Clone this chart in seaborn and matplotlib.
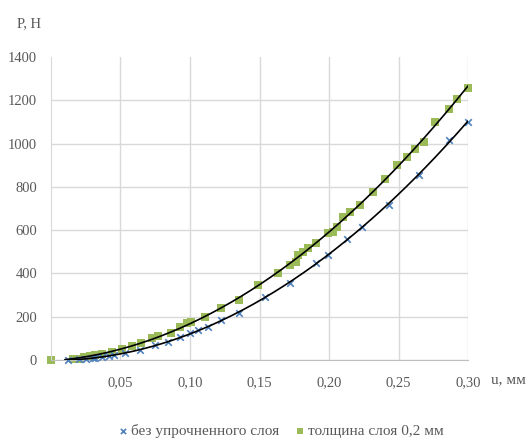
import matplotlib
matplotlib.use("Agg")
import matplotlib.pyplot as plt
import numpy as np
import pandas as pd
import seaborn as sns

# %% data
u_plain = [0.012, 0.020, 0.025, 0.030, 0.032, 0.037, 0.042, 0.045, 0.053, 0.064,
           0.075, 0.084, 0.093, 0.100, 0.106, 0.113, 0.122, 0.135, 0.154, 0.172,
           0.191, 0.199, 0.213, 0.224, 0.243, 0.265, 0.286, 0.300]
p_plain = [1, 3, 6, 8, 9, 14, 18, 21, 30, 45,
           69, 82, 108, 125, 139, 153, 183, 217, 291, 356,
           448, 485, 559, 615, 716, 855, 1016, 1100]

u_layer = [0.0, 0.016, 0.021, 0.024, 0.028, 0.032, 0.037, 0.044, 0.051, 0.058,
           0.065, 0.073, 0.077, 0.086, 0.093, 0.098, 0.101, 0.111, 0.122, 0.135,
           0.149, 0.163, 0.172, 0.176, 0.178, 0.181, 0.185, 0.191, 0.199, 0.203,
           0.206, 0.210, 0.215, 0.222, 0.232, 0.240, 0.249, 0.256, 0.262, 0.268,
           0.276, 0.286, 0.292, 0.300]
p_layer = [0, 3, 5, 14, 18, 23, 28, 37, 51, 65,
           79, 102, 111, 125, 153, 171, 176, 199, 240, 277,
           347, 402, 439, 453, 485, 499, 517, 540, 587, 591,
           615, 661, 684, 716, 776, 836, 901, 938, 975, 1007,
           1100, 1160, 1206, 1257]

x_ticks = [0.05, 0.10, 0.15, 0.20, 0.25, 0.30]
y_ticks = [0, 200, 400, 600, 800, 1000, 1200, 1400]
label_plain = "без упрочненного слоя"
label_layer = "толщина слоя 0,2 мм"

df_plain = pd.DataFrame({"u": u_plain, "p": p_plain})
df_layer = pd.DataFrame({"u": u_layer, "p": p_layer})

# %% plot
sns.set_style("white")
plt.rcParams["font.family"] = ["Liberation Serif", "DejaVu Serif"]
txt = "#595959"

fig = plt.figure(figsize=(5.29, 4.41), dpi=100)
ax = fig.add_axes([0.0964, 0.1837, 0.7883, 0.687])

sns.scatterplot(data=df_plain, x="u", y="p", ax=ax, marker="x", color="#4f81bd",
                s=22, linewidth=1.2, label=label_plain, zorder=3, clip_on=False)
sns.scatterplot(data=df_layer, x="u", y="p", ax=ax, marker="s", color="#9bbb59",
                s=30, linewidth=0, label=label_layer, zorder=2, clip_on=False)

# polynomial trend lines (2nd order), on top of the markers
u_fit = np.linspace(0.01, 0.30, 200)
for df in (df_plain, df_layer):
    coef = np.polyfit(df["u"], df["p"], 2)
    sns.lineplot(x=u_fit, y=np.polyval(coef, u_fit), ax=ax, color="black",
                 lw=1.2, zorder=5)

ax.set_xlim(0, 0.30)
ax.set_ylim(0, 1400)
ax.set_xticks(x_ticks)
ax.set_xticklabels([f"{t:.2f}".replace(".", ",") for t in x_ticks])
ax.set_yticks(y_ticks)
ax.set_yticklabels([str(t) for t in y_ticks])
ax.tick_params(length=0, labelsize=10.5, labelcolor=txt, pad=12)
ax.tick_params(axis="y", pad=10)
ax.set_xlabel("")
ax.set_ylabel("")

ax.grid(True, color="#d9d9d9", lw=1)
ax.yaxis.get_gridlines()[-1].set_visible(False)
ax.set_axisbelow(True)
for s in ("top", "right"):
    ax.spines[s].set_visible(False)
ax.spines["left"].set_color("#d9d9d9")
ax.spines["bottom"].set_color("#bfbfbf")

fig.text(0.054, 0.946, "Р, Н", fontsize=10.5, color=txt, ha="center", va="center")
fig.text(0.962, 0.138, "u, мм", fontsize=11, color=txt, ha="center", va="center")

ax.legend_.remove()
h, l = ax.get_legend_handles_labels()
fig.legend(h, l, loc="center", bbox_to_anchor=(0.53, 0.022), ncol=2, frameon=False,
           fontsize=11, labelcolor=txt, handletextpad=0.1, columnspacing=1.0,
           handlelength=0.8, markerscale=0.8)

fig.savefig("out.png", dpi=100)
